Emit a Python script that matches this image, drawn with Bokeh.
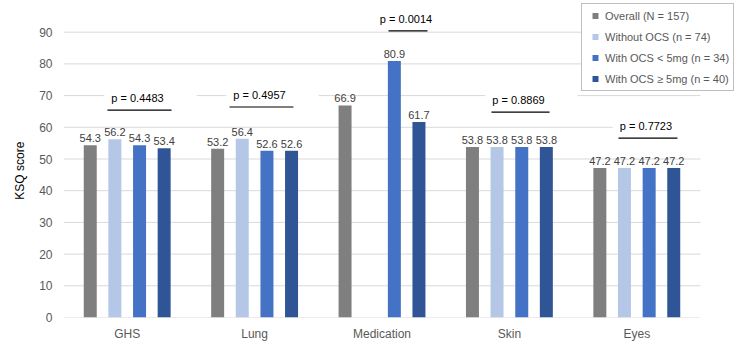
import numpy as np
from bokeh.plotting import figure
from bokeh.models import ColumnDataSource, Range1d, FixedTicker, Legend, LegendItem
from bokeh.core.properties import value
from bokeh.embed import file_html
from bokeh.resources import INLINE

# KSQ domain scores by OCS group
categories = ["GHS", "Lung", "Medication", "Skin", "Eyes"]
overall = [54.3, 53.2, 66.9, 53.8, 47.2]
without_ocs = [56.2, 56.4, np.nan, 53.8, 47.2]
ocs_below_5mg = [54.3, 52.6, 80.9, 53.8, 47.2]
ocs_5mg_plus = [53.4, 52.6, 61.7, 53.8, 47.2]
series_names = [
    "Overall (N = 157)",
    "Without OCS (n = 74)",
    "With OCS < 5mg (n = 34)",
    "With OCS \u2265 5mg (n = 40)",
]
p_values = ["0.4483", "0.4957", "0.0014", "0.8869", "0.7723"]
y_ticks = [0, 10, 20, 30, 40, 50, 60, 70, 80, 90]

# layout of the comparison brackets (height in score units, span relative to group centre)
bracket_y = [65.4, 66.4, 90.4, 64.8, 56.6]
bracket_span = [(-0.155, 0.348), (-0.197, 0.305), (0.051, 0.357), (-0.141, 0.315), (-0.144, 0.319)]

colors = ["#7f7f7f", "#b4c7e7", "#4472c4", "#2f5597"]
offsets = [-0.29, -0.097, 0.097, 0.29]
bar_width = 0.102
FONT = "Liberation Sans"

n_cat = len(categories)
# the frame runs to the right edge so the legend box is not clipped;
# the category area itself ends at x = n_cat
x_end = n_cat * (750 - 63) / 637

p = figure(
    width=750, height=346,
    x_range=Range1d(0, x_end), y_range=Range1d(0, 100),
    output_backend="svg", toolbar_location=None,
    min_border_left=63, min_border_right=0, min_border_top=0, min_border_bottom=29,
)
p.outline_line_color = None
p.background_fill_color = "white"

centers = [i + 0.5 for i in range(n_cat)]

# axes
p.xaxis.ticker = FixedTicker(ticks=centers)
p.xaxis.major_label_overrides = {c: name for c, name in zip(centers, categories)}
p.xaxis.major_tick_line_color = None
p.xaxis.minor_tick_line_color = None
p.xaxis.major_tick_out = 0
p.xaxis.major_tick_in = 0
p.xaxis.axis_line_color = None
p.xaxis.major_label_standoff = 9
p.xaxis.major_label_text_font = FONT
p.xaxis.major_label_text_font_size = "12px"
p.xaxis.major_label_text_color = "#595959"

p.yaxis.ticker = FixedTicker(ticks=y_ticks)
p.yaxis.axis_line_color = None
p.yaxis.major_tick_line_color = None
p.yaxis.minor_tick_line_color = None
p.yaxis.major_tick_out = 0
p.yaxis.major_tick_in = 0
p.yaxis.major_label_standoff = 11
p.yaxis.major_label_text_font = FONT
p.yaxis.major_label_text_font_size = "12px"
p.yaxis.major_label_text_color = "#595959"
# trailing no-break spaces lower the title a little below the frame's middle
p.yaxis.axis_label = "KSQ score" + "\u00a0" * 7
p.yaxis.axis_label_text_font = FONT
p.yaxis.axis_label_text_font_size = "12px"
p.yaxis.axis_label_text_font_style = "normal"
p.yaxis.axis_label_text_color = "#000000"
p.yaxis.axis_label_standoff = 9

# horizontal gridlines, limited to the category area
p.xgrid.grid_line_color = None
p.ygrid.grid_line_color = None
p.segment(x0=[0] * len(y_ticks), x1=[n_cat] * len(y_ticks), y0=y_ticks, y1=y_ticks,
          line_color="#d9d9d9", line_width=1, level="underlay")

# bars with value labels
series = [overall, without_ocs, ocs_below_5mg, ocs_5mg_plus]
legend_items = []
for vals, name, color, off in zip(series, series_names, colors, offsets):
    vals = np.array(vals, dtype=float)
    src = ColumnDataSource(dict(
        x=[c + off for c in centers],
        top=vals,
        label=["" if np.isnan(v) else f"{v:.1f}" for v in vals],
    ))
    p.vbar(x="x", top="top", width=bar_width, source=src, fill_color=color, line_color=None)
    p.text(x="x", y="top", text="label", source=src,
           text_align="center", text_baseline="bottom", y_offset=-3,
           text_font=value(FONT), text_font_size="11px", text_color="#404040")
    proxy = p.scatter(x=[np.nan], y=[np.nan], marker="square", size=6,
                      fill_color=color, line_color=None)
    legend_items.append(LegendItem(label=name, renderers=[proxy]))

# p-value brackets; the text box is padded more on the right, so the anchor is
# nudged right to keep the text itself centred over the bracket
bsrc = ColumnDataSource(dict(
    x0=[c + s[0] for c, s in zip(centers, bracket_span)],
    x1=[c + s[1] for c, s in zip(centers, bracket_span)],
    xm=[c + (s[0] + s[1]) / 2 for c, s in zip(centers, bracket_span)],
    y=bracket_y,
    label=[f"p = {v}" for v in p_values],
))
p.text(x="xm", y="y", text="label", source=bsrc,
       text_align="center", text_baseline="middle", x_offset=11, y_offset=-12,
       text_font=value(FONT), text_font_size="11px", text_color="#000000",
       background_fill_color="white",
       padding=dict(left=7, right=33, top=3, bottom=3))
p.segment(x0="x0", y0="y", x1="x1", y1="y", source=bsrc, line_color="#000000", line_width=1.2)

legend = Legend(
    items=legend_items, location=(518, 226), orientation="vertical",
    padding=4, spacing=6, margin=0,
    glyph_width=18, glyph_height=15, label_height=15, label_standoff=1,
    label_text_font=FONT, label_text_font_size="11px", label_text_color="#595959",
    border_line_color="#7f7f7f", border_line_width=1,
    background_fill_color="white", background_fill_alpha=1.0,
)
p.add_layout(legend)

open("out.html", "w").write(file_html(p, INLINE))
